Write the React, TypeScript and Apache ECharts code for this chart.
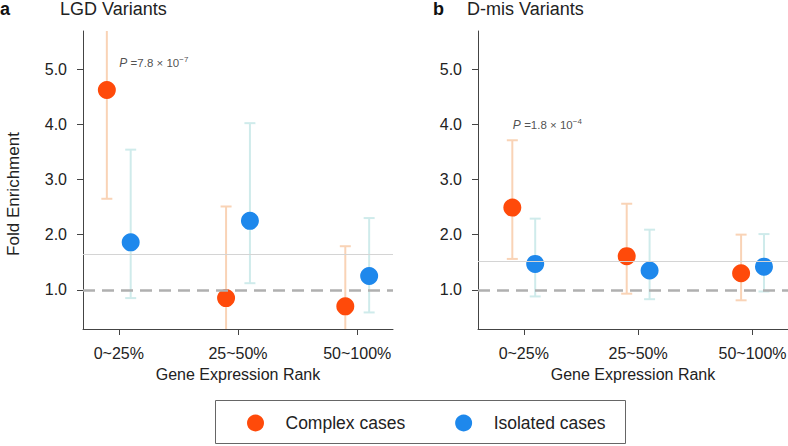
import React, { useEffect, useRef } from 'react';
import * as echarts from 'echarts';

const categories = ['0~25%', '25~50%', '50~100%'];
const categoryPositions = [1, 2, 3];
const yTickValues = [1, 2, 3, 4, 5];
const baselineValue = 1.0;

// Panel a: LGD variants
const lgdComplexEst = [4.62, 0.85, 0.7];
const lgdComplexLow = [2.65, 0.1, 0.1];
const lgdComplexHigh = [6.8, 2.51, 1.79];
const lgdIsolatedEst = [1.86, 2.25, 1.25];
const lgdIsolatedLow = [0.85, 1.12, 0.59];
const lgdIsolatedHigh = [3.54, 4.02, 2.3];
const lgdOverall = 1.64;
const lgdPValue = ['7.8 × 10', '−7'];

// Panel b: D-mis variants
const dmisComplexEst = [2.49, 1.61, 1.3];
const dmisComplexLow = [1.56, 0.93, 0.81];
const dmisComplexHigh = [3.71, 2.56, 2.0];
const dmisIsolatedEst = [1.47, 1.35, 1.42];
const dmisIsolatedLow = [0.88, 0.83, 0.97];
const dmisIsolatedHigh = [2.29, 2.09, 2.01];
const dmisOverall = 1.51;
const dmisPValue = ['1.8 × 10', '−4'];

const FONT = '"Liberation Sans", Arial, Helvetica, sans-serif';
const C_ORANGE = '#FF4A0A';
const C_BLUE = '#1E88EC';
const C_ORANGE_LIGHT = '#F9D3B6';
const C_BLUE_LIGHT = '#CFEBEB';
const OFFSET = 0.1;

const renderErr = (params: any, api: any) => {
  const x = api.value(0);
  const lo = api.value(1);
  const hi = api.value(2);
  const pLo = api.coord([x, lo]);
  const pHi = api.coord([x, hi]);
  const cw = 5.5;
  const style = { stroke: api.visual('color'), lineWidth: 2 };
  return {
    type: 'group',
    children: [
      { type: 'line', shape: { x1: pLo[0], y1: pLo[1], x2: pHi[0], y2: pHi[1] }, style },
      { type: 'line', shape: { x1: pLo[0] - cw, y1: pLo[1], x2: pLo[0] + cw, y2: pLo[1] }, style },
      { type: 'line', shape: { x1: pHi[0] - cw, y1: pHi[1], x2: pHi[0] + cw, y2: pHi[1] }, style },
    ],
  };
};

const xAxisFor = (gridIndex: number, min: number, max: number) => ({
  type: 'value',
  gridIndex,
  min,
  max,
  axisLine: { show: true, onZero: false, lineStyle: { color: '#444', width: 1 } },
  axisTick: { show: true, length: 6, customValues: categoryPositions, lineStyle: { color: '#444' } },
  axisLabel: {
    customValues: categoryPositions,
    formatter: (v: number) => categories[Math.round(v) - 1] ?? '',
    margin: 16,
    fontSize: 16,
    color: '#222',
    fontFamily: FONT,
  },
  splitLine: { show: false },
  name: 'Gene Expression Rank',
  nameLocation: 'middle',
  nameGap: 37,
  nameTextStyle: { fontSize: 16, color: '#222', fontFamily: FONT },
});

const yAxisFor = (gridIndex: number) => ({
  type: 'value',
  gridIndex,
  min: 0.29,
  max: 5.69,
  axisLine: { show: true, onZero: false, lineStyle: { color: '#444', width: 1 } },
  axisTick: { show: true, length: 6, customValues: yTickValues, lineStyle: { color: '#444' } },
  axisLabel: {
    customValues: yTickValues,
    formatter: (v: number) => v.toFixed(1),
    margin: 16,
    fontSize: 16,
    color: '#222',
    fontFamily: FONT,
  },
  splitLine: { show: false },
});

const panelSeries = (
  gi: number,
  cEst: number[], cLo: number[], cHi: number[],
  iEst: number[], iLo: number[], iHi: number[],
  overall: number, pText: string[], pPos: number[]
) => [
  {
    type: 'scatter',
    name: 'ref' + gi,
    xAxisIndex: gi,
    yAxisIndex: gi,
    data: [],
    z: 1,
    markLine: {
      silent: true,
      symbol: 'none',
      label: { show: false },
      animation: false,
      data: [
        { yAxis: overall, lineStyle: { color: '#D4D4D4', width: 1.2, type: 'solid' } },
        { yAxis: baselineValue, lineStyle: { color: '#B0B0B0', width: 2.6, type: [12, 7] } },
      ],
    },
  },
  {
    type: 'custom',
    name: 'errC' + gi,
    xAxisIndex: gi,
    yAxisIndex: gi,
    clip: true,
    z: 2,
    itemStyle: { color: C_ORANGE_LIGHT },
    renderItem: renderErr,
    encode: { x: 0, y: [1, 2] },
    data: categoryPositions.map((p, k) => [p - OFFSET, cLo[k], cHi[k]]),
  },
  {
    type: 'custom',
    name: 'errI' + gi,
    xAxisIndex: gi,
    yAxisIndex: gi,
    clip: true,
    z: 2,
    itemStyle: { color: C_BLUE_LIGHT },
    renderItem: renderErr,
    encode: { x: 0, y: [1, 2] },
    data: categoryPositions.map((p, k) => [p + OFFSET, iLo[k], iHi[k]]),
  },
  {
    type: 'scatter',
    name: 'Complex cases',
    xAxisIndex: gi,
    yAxisIndex: gi,
    symbol: 'circle',
    symbolSize: 18,
    z: 3,
    itemStyle: { color: C_ORANGE, opacity: 1 },
    data: categoryPositions.map((p, k) => [p - OFFSET, cEst[k]]),
  },
  {
    type: 'scatter',
    name: 'Isolated cases',
    xAxisIndex: gi,
    yAxisIndex: gi,
    symbol: 'circle',
    symbolSize: 18,
    z: 3,
    itemStyle: { color: C_BLUE, opacity: 1 },
    data: categoryPositions.map((p, k) => [p + OFFSET, iEst[k]]),
  },
  {
    type: 'scatter',
    name: 'pval' + gi,
    xAxisIndex: gi,
    yAxisIndex: gi,
    symbolSize: 1,
    z: 4,
    itemStyle: { color: 'rgba(0,0,0,0)' },
    data: [pPos],
    label: {
      show: true,
      position: 'right',
      distance: 0,
      formatter: '{i|P} {n|=' + pText[0] + '}{s|' + pText[1] + '}',
      rich: {
        i: { fontStyle: 'italic', fontSize: 12, color: '#222', fontFamily: FONT, lineHeight: 16 },
        n: { fontSize: 11.5, color: '#222', fontFamily: FONT, lineHeight: 16 },
        s: { fontSize: 8, color: '#222', fontFamily: FONT, verticalAlign: 'top', lineHeight: 16 },
      },
    },
  },
];

export default function App() {
  const ref = useRef<HTMLDivElement>(null);
  useEffect(() => {
    if (!ref.current) return;
    const chart = echarts.init(ref.current, null, { renderer: 'svg' });
    chart.setOption({
      animation: false,
      backgroundColor: '#ffffff',
      textStyle: { fontFamily: FONT },
      grid: [
        { left: 83, top: 31, width: 310, height: 298, outerBoundsMode: 'none' },
        { left: 478, top: 31, width: 310, height: 298, outerBoundsMode: 'none' },
      ],
      xAxis: [xAxisFor(0, 0.7, 3.3), xAxisFor(1, 0.6, 3.31)],
      yAxis: [yAxisFor(0), yAxisFor(1)],
      legend: {
        data: ['Complex cases', 'Isolated cases'],
        left: 247,
        top: 414,
        orient: 'horizontal',
        icon: 'circle',
        itemWidth: 50,
        itemHeight: 17,
        itemGap: 50,
        padding: 0,
        borderWidth: 0,
        selectedMode: false,
        textStyle: { fontSize: 17.5, color: '#222', fontFamily: FONT },
      },
      graphic: [
        { type: 'rect', shape: { x: 215.5, y: 400.5, width: 410, height: 43 }, style: { fill: 'none', stroke: '#666', lineWidth: 1 }, z: -1 },
        { type: 'text', x: 0, y: 9, style: { text: 'a', font: 'bold 18px ' + FONT, fill: '#111', verticalAlign: 'middle' } },
        { type: 'text', x: 60, y: 9, style: { text: 'LGD Variants', font: '18px ' + FONT, fill: '#222', verticalAlign: 'middle' } },
        { type: 'text', x: 433, y: 9, style: { text: 'b', font: 'bold 18px ' + FONT, fill: '#111', verticalAlign: 'middle' } },
        { type: 'text', x: 467, y: 9, style: { text: 'D-mis Variants', font: '18px ' + FONT, fill: '#222', verticalAlign: 'middle' } },
        {
          type: 'text', x: 13, y: 194, rotation: Math.PI / 2,
          style: { text: 'Fold Enrichment', font: '17px ' + FONT, fill: '#222', align: 'center', verticalAlign: 'middle' },
        },
      ],
      series: [
        ...panelSeries(0, lgdComplexEst, lgdComplexLow, lgdComplexHigh, lgdIsolatedEst, lgdIsolatedLow, lgdIsolatedHigh, lgdOverall, lgdPValue, [1.0, 5.11]),
        ...panelSeries(1, dmisComplexEst, dmisComplexLow, dmisComplexHigh, dmisIsolatedEst, dmisIsolatedLow, dmisIsolatedHigh, dmisOverall, dmisPValue, [0.9, 3.98]),
      ],
    });
    return () => chart.dispose();
  }, []);
  return <div ref={ref} style={{ position: 'fixed', left: 0, top: 0, width: 788, height: 446 }} />;
}
